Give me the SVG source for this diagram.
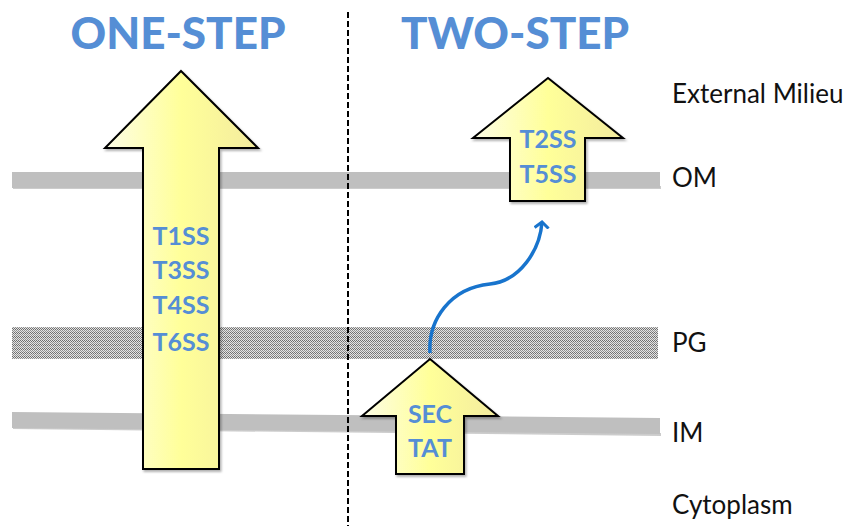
<svg xmlns="http://www.w3.org/2000/svg" width="853" height="526" viewBox="0 0 853 526">
<defs>
<style>
.title{font-family:Lato,"Open Sans",sans-serif;font-weight:900;font-size:44px;fill:#558ed5;text-anchor:middle}
.lbl{font-family:Lato,"Open Sans",sans-serif;font-weight:bold;font-size:25px;fill:#558ed5;text-anchor:middle}
.side{font-family:Lato,"Open Sans",sans-serif;font-size:26px;fill:#111}
.arrow{fill:url(#yg);stroke:#000;stroke-width:2;stroke-linejoin:miter;filter:url(#sh)}
.band{fill:#bfbfbf}
.bsh{fill:#9a9a9a;opacity:0.5}
</style>
<linearGradient id="yg" x1="0" y1="0" x2="1" y2="0">
<stop offset="0" stop-color="#fdfde6"/>
<stop offset="0.5" stop-color="#ffff99"/>
<stop offset="1" stop-color="#f3eb9f"/>
</linearGradient>
<filter id="sh" x="-10%" y="-10%" width="125%" height="125%">
<feDropShadow dx="1.5" dy="2" stdDeviation="1" flood-color="#000" flood-opacity="0.3"/>
</filter>
<pattern id="hatch" width="4" height="4" patternUnits="userSpaceOnUse">
<rect width="4" height="4" fill="#e4e4e4"/>
<rect x="0" y="0" width="1" height="1" fill="#6e6e6e"/>
<rect x="1" y="1" width="1" height="1" fill="#6e6e6e"/>
<rect x="2" y="0" width="1" height="1" fill="#6e6e6e"/>
<rect x="3" y="1" width="1" height="1" fill="#6e6e6e"/>
<rect x="0" y="2" width="1" height="1" fill="#909090"/>
<rect x="1" y="3" width="1" height="1" fill="#909090"/>
<rect x="2" y="2" width="1" height="1" fill="#909090"/>
<rect x="3" y="3" width="1" height="1" fill="#909090"/>
</pattern>
<marker id="open" markerWidth="14" markerHeight="16" refX="7" refY="8" orient="auto" markerUnits="userSpaceOnUse">
<path d="M1 1 L7 8 L1 15" fill="none" stroke="#1874cd" stroke-width="3"/>
</marker>
</defs>
<rect width="853" height="526" fill="#fff"/>
<g id="membranes">
<rect class="bsh" x="13" y="186" width="648" height="3"/>
<rect class="band" x="12" y="172" width="648" height="16"/>
<rect x="12" y="327" width="646" height="32" fill="url(#hatch)"/>
<polygon class="bsh" points="13,426 661,433 661,436 13,429"/>
<polygon class="band" points="12,412 660,418 660,434 12,428"/>
</g>
<g id="divider">
<line x1="348" y1="12" x2="348" y2="526" stroke="#000" stroke-width="2" stroke-dasharray="6,3"/>
</g>
<g id="titles">
<text class="title" x="178" y="49">ONE-STEP</text>
<text class="title" x="515" y="49">TWO-STEP</text>
</g>
<g id="one-step">
<polygon class="arrow" points="181,71 258,148 219,148 219,469 143,469 143,148 105,148"/>
<text class="lbl" x="181" y="245">T1SS</text>
<text class="lbl" x="181" y="279">T3SS</text>
<text class="lbl" x="181" y="314">T4SS</text>
<text class="lbl" x="181" y="351">T6SS</text>
</g>
<g id="two-step-om">
<polygon class="arrow" points="548,78 623,138 585,138 585,201 510,201 510,138 473,138"/>
<text class="lbl" x="548" y="148">T2SS</text>
<text class="lbl" x="548" y="183">T5SS</text>
</g>
<g id="two-step-im">
<polygon class="arrow" points="430,359 498,416 464,416 464,474 396,474 396,416 362,416"/>
<text class="lbl" x="430" y="423">SEC</text>
<text class="lbl" x="430" y="457">TAT</text>
</g>
<g id="connectors">
<path d="M430 353 C428 320 450 288 490 284 C520 281 540 250 542 222" fill="none" stroke="#1874cd" stroke-width="3.5" marker-end="url(#open)"/>
</g>
<g id="labels">
<text class="side" x="672" y="103">External Milieu</text>
<text class="side" x="672" y="187">OM</text>
<text class="side" x="672" y="352">PG</text>
<text class="side" x="672" y="442">IM</text>
<text class="side" x="672" y="514">Cytoplasm</text>
</g>
</svg>
